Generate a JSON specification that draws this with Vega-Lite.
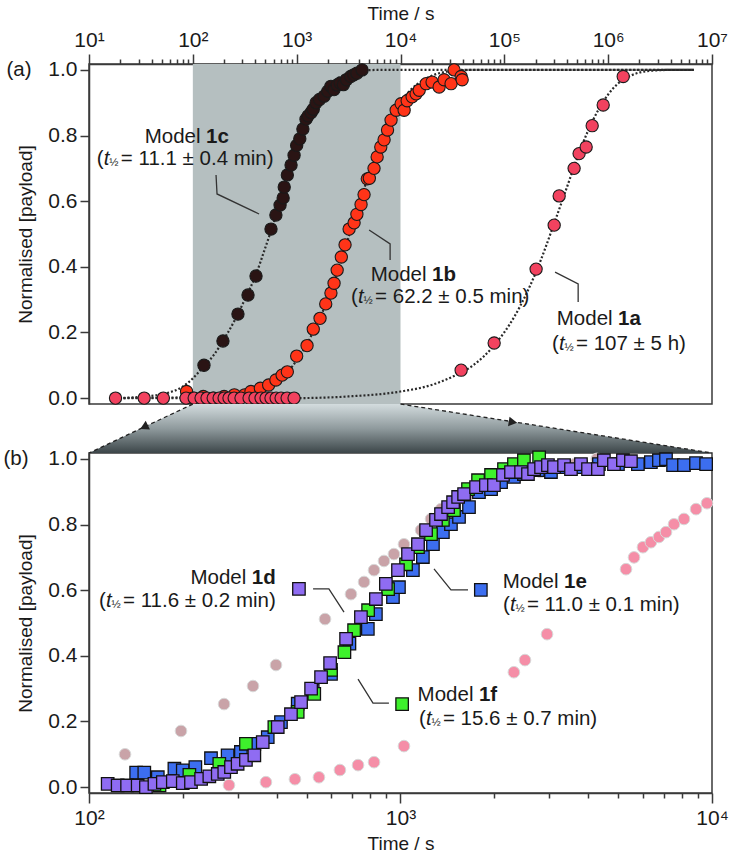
{
  "$schema": "https://vega.github.io/schema/vega-lite/v6.json",
  "background": "white",
  "padding": {"left": 2, "right": 10, "top": 3, "bottom": 3},
  "bounds": "flush",
  "spacing": 49,
  "config": {
    "view": {"stroke": "#3a3a3a", "strokeWidth": 1.5},
    "axis": {
      "labelFont": "Liberation Sans", "labelFontSize": 21, "labelColor": "#1a1a1a",
      "titleFont": "Liberation Sans", "titleFontSize": 19, "titleFontWeight": "normal", "titleColor": "#1a1a1a",
      "domainColor": "#3a3a3a", "domainWidth": 1.5, "tickColor": "#3a3a3a", "tickWidth": 1.5,
      "grid": false, "labelOverlap": false, "labelFlush": false
    },
    "text": {"font": "Liberation Sans", "color": "#1a1a1a", "fontSize": 20.5}
  },
  "datasets": {
    "topPts": [
      {"m": "1c", "t": 128, "y": 0.10}, {"m": "1c", "t": 195, "y": 0.174}, {"m": "1c", "t": 272, "y": 0.256},
      {"m": "1c", "t": 340, "y": 0.314}, {"m": "1c", "t": 406, "y": 0.372}, {"m": "1c", "t": 566, "y": 0.515},
      {"m": "1c", "t": 631, "y": 0.558}, {"m": "1c", "t": 692, "y": 0.588}, {"m": "1c", "t": 741, "y": 0.61},
      {"m": "1c", "t": 759, "y": 0.643}, {"m": "1c", "t": 813, "y": 0.68}, {"m": "1c", "t": 883, "y": 0.71},
      {"m": "1c", "t": 944, "y": 0.74}, {"m": "1c", "t": 1000, "y": 0.77}, {"m": "1c", "t": 1072, "y": 0.79},
      {"m": "1c", "t": 1148, "y": 0.82}, {"m": "1c", "t": 1230, "y": 0.85}, {"m": "1c", "t": 1288, "y": 0.86},
      {"m": "1c", "t": 1380, "y": 0.87}, {"m": "1c", "t": 1445, "y": 0.88}, {"m": "1c", "t": 1538, "y": 0.90},
      {"m": "1c", "t": 1660, "y": 0.91}, {"m": "1c", "t": 1837, "y": 0.92}, {"m": "1c", "t": 1995, "y": 0.935},
      {"m": "1c", "t": 2138, "y": 0.95}, {"m": "1c", "t": 2291, "y": 0.94}, {"m": "1c", "t": 2455, "y": 0.954},
      {"m": "1c", "t": 2630, "y": 0.96}, {"m": "1c", "t": 2818, "y": 0.955}, {"m": "1c", "t": 3020, "y": 0.97},
      {"m": "1c", "t": 3311, "y": 0.98}, {"m": "1c", "t": 3548, "y": 0.985}, {"m": "1c", "t": 3802, "y": 0.99},
      {"m": "1c", "t": 4266, "y": 1.0},
      {"m": "1b", "t": 87, "y": 0.02}, {"m": "1b", "t": 100, "y": 0.0}, {"m": "1b", "t": 126, "y": 0.005},
      {"m": "1b", "t": 158, "y": 0.0}, {"m": "1b", "t": 200, "y": 0.005}, {"m": "1b", "t": 251, "y": 0.01},
      {"m": "1b", "t": 316, "y": 0.01}, {"m": "1b", "t": 363, "y": 0.02}, {"m": "1b", "t": 447, "y": 0.03},
      {"m": "1b", "t": 537, "y": 0.04}, {"m": "1b", "t": 631, "y": 0.055}, {"m": "1b", "t": 724, "y": 0.07},
      {"m": "1b", "t": 813, "y": 0.08}, {"m": "1b", "t": 1000, "y": 0.128}, {"m": "1b", "t": 1259, "y": 0.16},
      {"m": "1b", "t": 1445, "y": 0.21}, {"m": "1b", "t": 1679, "y": 0.243}, {"m": "1b", "t": 1905, "y": 0.287},
      {"m": "1b", "t": 2138, "y": 0.32}, {"m": "1b", "t": 2291, "y": 0.35}, {"m": "1b", "t": 2455, "y": 0.39},
      {"m": "1b", "t": 2692, "y": 0.43}, {"m": "1b", "t": 2924, "y": 0.467}, {"m": "1b", "t": 3199, "y": 0.515},
      {"m": "1b", "t": 3573, "y": 0.534}, {"m": "1b", "t": 3802, "y": 0.56}, {"m": "1b", "t": 4169, "y": 0.59},
      {"m": "1b", "t": 4457, "y": 0.62}, {"m": "1b", "t": 4786, "y": 0.668}, {"m": "1b", "t": 5012, "y": 0.67},
      {"m": "1b", "t": 5559, "y": 0.70}, {"m": "1b", "t": 5957, "y": 0.735}, {"m": "1b", "t": 6457, "y": 0.765},
      {"m": "1b", "t": 6950, "y": 0.787}, {"m": "1b", "t": 7500, "y": 0.817}, {"m": "1b", "t": 8110, "y": 0.847},
      {"m": "1b", "t": 9078, "y": 0.877}, {"m": "1b", "t": 10140, "y": 0.897}, {"m": "1b", "t": 10840, "y": 0.877},
      {"m": "1b", "t": 11590, "y": 0.906}, {"m": "1b", "t": 12940, "y": 0.918}, {"m": "1b", "t": 14130, "y": 0.927},
      {"m": "1b", "t": 15140, "y": 0.938}, {"m": "1b", "t": 17660, "y": 0.958}, {"m": "1b", "t": 20140, "y": 0.963},
      {"m": "1b", "t": 23550, "y": 0.948}, {"m": "1b", "t": 26300, "y": 0.97}, {"m": "1b", "t": 30690, "y": 0.958},
      {"m": "1b", "t": 32810, "y": 1.0}, {"m": "1b", "t": 38370, "y": 0.98}, {"m": "1b", "t": 39260, "y": 0.97},
      {"m": "1a", "t": 18, "y": 0}, {"m": "1a", "t": 34, "y": 0}, {"m": "1a", "t": 52, "y": 0},
      {"m": "1a", "t": 86, "y": 0}, {"m": "1a", "t": 103, "y": 0}, {"m": "1a", "t": 120, "y": 0},
      {"m": "1a", "t": 137, "y": 0}, {"m": "1a", "t": 157, "y": 0}, {"m": "1a", "t": 179, "y": 0},
      {"m": "1a", "t": 200, "y": 0}, {"m": "1a", "t": 223, "y": 0}, {"m": "1a", "t": 250, "y": 0},
      {"m": "1a", "t": 291, "y": 0}, {"m": "1a", "t": 348, "y": 0}, {"m": "1a", "t": 397, "y": 0},
      {"m": "1a", "t": 454, "y": 0}, {"m": "1a", "t": 507, "y": 0}, {"m": "1a", "t": 566, "y": 0},
      {"m": "1a", "t": 634, "y": 0}, {"m": "1a", "t": 708, "y": 0}, {"m": "1a", "t": 809, "y": 0},
      {"m": "1a", "t": 944, "y": 0},
      {"m": "1a", "t": 38370, "y": 0.085}, {"m": "1a", "t": 79800, "y": 0.168}, {"m": "1a", "t": 202300, "y": 0.393},
      {"m": "1a", "t": 302000, "y": 0.527}, {"m": "1a", "t": 337300, "y": 0.616}, {"m": "1a", "t": 469900, "y": 0.70},
      {"m": "1a", "t": 524800, "y": 0.745}, {"m": "1a", "t": 613800, "y": 0.765}, {"m": "1a", "t": 701500, "y": 0.83},
      {"m": "1a", "t": 895400, "y": 0.893}, {"m": "1a", "t": 1396000, "y": 0.98}
    ],
    "topCurves": [
      {"m": "1c", "t": 18, "y": 0.0}, {"m": "1c", "t": 32, "y": 0.004}, {"m": "1c", "t": 56, "y": 0.015},
      {"m": "1c", "t": 80, "y": 0.035}, {"m": "1c", "t": 100, "y": 0.06}, {"m": "1c", "t": 126, "y": 0.095},
      {"m": "1c", "t": 158, "y": 0.13}, {"m": "1c", "t": 200, "y": 0.18}, {"m": "1c", "t": 251, "y": 0.235},
      {"m": "1c", "t": 316, "y": 0.3}, {"m": "1c", "t": 398, "y": 0.37}, {"m": "1c", "t": 501, "y": 0.46},
      {"m": "1c", "t": 631, "y": 0.555}, {"m": "1c", "t": 794, "y": 0.66}, {"m": "1c", "t": 1000, "y": 0.765},
      {"m": "1c", "t": 1259, "y": 0.85}, {"m": "1c", "t": 1585, "y": 0.91}, {"m": "1c", "t": 1995, "y": 0.95},
      {"m": "1c", "t": 2512, "y": 0.975}, {"m": "1c", "t": 3162, "y": 0.99}, {"m": "1c", "t": 3981, "y": 0.997},
      {"m": "1c", "t": 6310, "y": 1.0}, {"m": "1c", "t": 6700000, "y": 1.0},
      {"m": "1b", "t": 18, "y": 0.0}, {"m": "1b", "t": 100, "y": 0.003}, {"m": "1b", "t": 200, "y": 0.008},
      {"m": "1b", "t": 316, "y": 0.015}, {"m": "1b", "t": 501, "y": 0.035}, {"m": "1b", "t": 631, "y": 0.05},
      {"m": "1b", "t": 794, "y": 0.075}, {"m": "1b", "t": 1000, "y": 0.115}, {"m": "1b", "t": 1259, "y": 0.165},
      {"m": "1b", "t": 1585, "y": 0.23}, {"m": "1b", "t": 1995, "y": 0.30}, {"m": "1b", "t": 2512, "y": 0.39},
      {"m": "1b", "t": 3162, "y": 0.49}, {"m": "1b", "t": 3981, "y": 0.59}, {"m": "1b", "t": 5012, "y": 0.685},
      {"m": "1b", "t": 6310, "y": 0.77}, {"m": "1b", "t": 7943, "y": 0.845}, {"m": "1b", "t": 10000, "y": 0.9},
      {"m": "1b", "t": 12590, "y": 0.94}, {"m": "1b", "t": 15850, "y": 0.965}, {"m": "1b", "t": 19950, "y": 0.982},
      {"m": "1b", "t": 25120, "y": 0.992}, {"m": "1b", "t": 31620, "y": 0.997}, {"m": "1b", "t": 50120, "y": 1.0},
      {"m": "1b", "t": 6700000, "y": 1.0},
      {"m": "1a", "t": 18, "y": 0.0}, {"m": "1a", "t": 1000, "y": 0.0}, {"m": "1a", "t": 3162, "y": 0.005},
      {"m": "1a", "t": 10000, "y": 0.02}, {"m": "1a", "t": 19950, "y": 0.04}, {"m": "1a", "t": 31620, "y": 0.065},
      {"m": "1a", "t": 50120, "y": 0.1}, {"m": "1a", "t": 79430, "y": 0.16}, {"m": "1a", "t": 125900, "y": 0.25},
      {"m": "1a", "t": 199500, "y": 0.38}, {"m": "1a", "t": 316200, "y": 0.55}, {"m": "1a", "t": 398100, "y": 0.64},
      {"m": "1a", "t": 501200, "y": 0.73}, {"m": "1a", "t": 631000, "y": 0.81}, {"m": "1a", "t": 794300, "y": 0.875},
      {"m": "1a", "t": 1000000, "y": 0.925}, {"m": "1a", "t": 1259000, "y": 0.96}, {"m": "1a", "t": 1585000, "y": 0.98},
      {"m": "1a", "t": 1995000, "y": 0.992}, {"m": "1a", "t": 2512000, "y": 0.997}, {"m": "1a", "t": 3981000, "y": 1.0},
      {"m": "1a", "t": 6700000, "y": 1.0}
    ],
    "topLeaders": [
      {"m": "1c", "o": 1, "t": 167.3, "y": 0.680}, {"m": "1c", "o": 2, "t": 171, "y": 0.622}, {"m": "1c", "o": 3, "t": 434.5, "y": 0.561},
      {"m": "1b", "o": 1, "t": 4983, "y": 0.512}, {"m": "1b", "o": 2, "t": 7943, "y": 0.470}, {"m": "1b", "o": 3, "t": 7943, "y": 0.421},
      {"m": "1a", "o": 1, "t": 308000, "y": 0.384}, {"m": "1a", "o": 2, "t": 514000, "y": 0.348}, {"m": "1a", "o": 3, "t": 514000, "y": 0.293}
    ],
    "topLabels": [
      {"m": "1c", "lt": 134, "ly": 0.796, "pt": 11.9, "py": 0.729, "rest": "= 11.1 ± 0.4 min)"},
      {"m": "1b", "lt": 20140, "ly": 0.375, "pt": 3344, "py": 0.308, "rest": "= 62.2 ± 0.5 min)"},
      {"m": "1a", "lt": 1247000, "ly": 0.241, "pt": 288000, "py": 0.165, "rest": "= 107 ± 5 h)"}
    ],
    "botCirc": [
      {"m": "1c", "t": 130.5, "y": 0.10}, {"m": "1c", "t": 197.4, "y": 0.171}, {"m": "1c", "t": 271.4, "y": 0.253},
      {"m": "1c", "t": 336.1, "y": 0.308}, {"m": "1c", "t": 398.4, "y": 0.372}, {"m": "1c", "t": 572.4, "y": 0.512},
      {"m": "1c", "t": 693.4, "y": 0.588}, {"m": "1c", "t": 763.8, "y": 0.625}, {"m": "1c", "t": 822.2, "y": 0.661},
      {"m": "1c", "t": 885.2, "y": 0.689}, {"m": "1c", "t": 952.6, "y": 0.71}, {"m": "1c", "t": 1026, "y": 0.74},
      {"m": "1c", "t": 1164, "y": 0.783}, {"m": "1c", "t": 1253, "y": 0.817}, {"m": "1c", "t": 1349, "y": 0.847},
      {"m": "1c", "t": 1479, "y": 0.87}, {"m": "1c", "t": 1660, "y": 0.89}, {"m": "1c", "t": 1862, "y": 0.915},
      {"m": "1c", "t": 2138, "y": 0.94}, {"m": "1c", "t": 2512, "y": 0.955}, {"m": "1c", "t": 2818, "y": 0.96},
      {"m": "1c", "t": 3162, "y": 0.975}, {"m": "1c", "t": 3631, "y": 0.985}, {"m": "1c", "t": 4266, "y": 1.0},
      {"m": "1b", "t": 281.4, "y": 0.006}, {"m": "1b", "t": 369.8, "y": 0.015}, {"m": "1b", "t": 458.3, "y": 0.024},
      {"m": "1b", "t": 547.2, "y": 0.03}, {"m": "1b", "t": 639, "y": 0.052}, {"m": "1b", "t": 730.5, "y": 0.067},
      {"m": "1b", "t": 822.4, "y": 0.076}, {"m": "1b", "t": 1026, "y": 0.125}, {"m": "1b", "t": 2312, "y": 0.35},
      {"m": "1b", "t": 2510, "y": 0.387}, {"m": "1b", "t": 2954, "y": 0.466}, {"m": "1b", "t": 5296, "y": 0.664},
      {"m": "1b", "t": 5620, "y": 0.70}, {"m": "1b", "t": 6003, "y": 0.731}, {"m": "1b", "t": 6365, "y": 0.746},
      {"m": "1b", "t": 6755, "y": 0.762}, {"m": "1b", "t": 7118, "y": 0.777}, {"m": "1b", "t": 7552, "y": 0.801},
      {"m": "1b", "t": 8129, "y": 0.817}, {"m": "1b", "t": 8886, "y": 0.847}, {"m": "1b", "t": 9636, "y": 0.865}
    ],
    "botSq": [
      {"m": "1e", "t": 141.7, "y": 0.044}, {"m": "1e", "t": 150.5, "y": 0.044}, {"m": "1e", "t": 166.3, "y": 0.03},
      {"m": "1e", "t": 188, "y": 0.056}, {"m": "1e", "t": 200, "y": 0.051}, {"m": "1e", "t": 219.5, "y": 0.061},
      {"m": "1e", "t": 246.4, "y": 0.088}, {"m": "1e", "t": 278.6, "y": 0.097}, {"m": "1e", "t": 307.3, "y": 0.107},
      {"m": "1e", "t": 339.5, "y": 0.132}, {"m": "1e", "t": 374.8, "y": 0.152}, {"m": "1e", "t": 413.3, "y": 0.198},
      {"m": "1e", "t": 467.7, "y": 0.254}, {"m": "1e", "t": 522.6, "y": 0.295}, {"m": "1e", "t": 598.3, "y": 0.345},
      {"m": "1e", "t": 685.6, "y": 0.437}, {"m": "1e", "t": 785.5, "y": 0.482}, {"m": "1e", "t": 833.7, "y": 0.527},
      {"m": "1e", "t": 945.8, "y": 0.579}, {"m": "1e", "t": 988.6, "y": 0.609}, {"m": "1e", "t": 1096, "y": 0.661},
      {"m": "1e", "t": 1180, "y": 0.701}, {"m": "1e", "t": 1271, "y": 0.74}, {"m": "1e", "t": 1368, "y": 0.777},
      {"m": "1e", "t": 1452, "y": 0.801}, {"m": "1e", "t": 1541, "y": 0.823}, {"m": "1e", "t": 1659, "y": 0.853},
      {"m": "1e", "t": 1786, "y": 0.899}, {"m": "1e", "t": 1953, "y": 0.908}, {"m": "1e", "t": 2103, "y": 0.929},
      {"m": "1e", "t": 2313, "y": 0.945}, {"m": "1e", "t": 2490, "y": 0.954}, {"m": "1e", "t": 2761, "y": 0.966},
      {"m": "1e", "t": 3041, "y": 0.96}, {"m": "1e", "t": 3350, "y": 0.975}, {"m": "1e", "t": 3796, "y": 0.975},
      {"m": "1e", "t": 4335, "y": 0.984}, {"m": "1e", "t": 4990, "y": 0.984}, {"m": "1e", "t": 5782, "y": 0.984},
      {"m": "1e", "t": 6365, "y": 0.99}, {"m": "1e", "t": 6755, "y": 0.996}, {"m": "1e", "t": 7118, "y": 0.999},
      {"m": "1e", "t": 7499, "y": 0.981}, {"m": "1e", "t": 8129, "y": 0.981}, {"m": "1e", "t": 8886, "y": 0.987},
      {"m": "1e", "t": 9574, "y": 0.984},
      {"m": "1f", "t": 168.4, "y": 0.005}, {"m": "1f", "t": 210, "y": 0.037}, {"m": "1f", "t": 262, "y": 0.071},
      {"m": "1f", "t": 319, "y": 0.132}, {"m": "1f", "t": 393.6, "y": 0.183}, {"m": "1f", "t": 467.7, "y": 0.229},
      {"m": "1f", "t": 528.6, "y": 0.284}, {"m": "1f", "t": 598.3, "y": 0.357}, {"m": "1f", "t": 660.7, "y": 0.411},
      {"m": "1f", "t": 709.6, "y": 0.478}, {"m": "1f", "t": 787, "y": 0.539}, {"m": "1f", "t": 912.3, "y": 0.603},
      {"m": "1f", "t": 1042, "y": 0.679}, {"m": "1f", "t": 1138, "y": 0.731}, {"m": "1f", "t": 1253, "y": 0.771},
      {"m": "1f", "t": 1368, "y": 0.814}, {"m": "1f", "t": 1485, "y": 0.844}, {"m": "1f", "t": 1647, "y": 0.908},
      {"m": "1f", "t": 1774, "y": 0.935}, {"m": "1f", "t": 1953, "y": 0.951}, {"m": "1f", "t": 2149, "y": 0.969},
      {"m": "1f", "t": 2313, "y": 0.984}, {"m": "1f", "t": 2490, "y": 0.996}, {"m": "1f", "t": 2786, "y": 1.005},
      {"m": "1d", "t": 114.8, "y": 0.010}, {"m": "1d", "t": 123.6, "y": 0.005}, {"m": "1d", "t": 132.5, "y": 0.005},
      {"m": "1d", "t": 143.3, "y": 0.005}, {"m": "1d", "t": 152.3, "y": 0.0}, {"m": "1d", "t": 162.2, "y": 0.01},
      {"m": "1d", "t": 172.6, "y": 0.015}, {"m": "1d", "t": 185.8, "y": 0.018}, {"m": "1d", "t": 200, "y": 0.012},
      {"m": "1d", "t": 212.5, "y": 0.015}, {"m": "1d", "t": 229, "y": 0.025}, {"m": "1d", "t": 243.4, "y": 0.033},
      {"m": "1d", "t": 259, "y": 0.04}, {"m": "1d", "t": 271.8, "y": 0.046}, {"m": "1d", "t": 285.6, "y": 0.061},
      {"m": "1d", "t": 300, "y": 0.071}, {"m": "1d", "t": 319, "y": 0.083}, {"m": "1d", "t": 339.5, "y": 0.097},
      {"m": "1d", "t": 361.2, "y": 0.137}, {"m": "1d", "t": 403.6, "y": 0.183}, {"m": "1d", "t": 445, "y": 0.222},
      {"m": "1d", "t": 479.5, "y": 0.259}, {"m": "1d", "t": 516.4, "y": 0.30}, {"m": "1d", "t": 555.9, "y": 0.335},
      {"m": "1d", "t": 594.3, "y": 0.378}, {"m": "1d", "t": 668.8, "y": 0.452}, {"m": "1d", "t": 746.4, "y": 0.518},
      {"m": "1d", "t": 833.7, "y": 0.573}, {"m": "1d", "t": 897.5, "y": 0.619}, {"m": "1d", "t": 981.5, "y": 0.661},
      {"m": "1d", "t": 1057, "y": 0.71}, {"m": "1d", "t": 1138, "y": 0.74}, {"m": "1d", "t": 1208, "y": 0.783},
      {"m": "1d", "t": 1300, "y": 0.814}, {"m": "1d", "t": 1349, "y": 0.832}, {"m": "1d", "t": 1422, "y": 0.853},
      {"m": "1d", "t": 1475, "y": 0.868}, {"m": "1d", "t": 1531, "y": 0.884}, {"m": "1d", "t": 1600, "y": 0.893},
      {"m": "1d", "t": 1748, "y": 0.914}, {"m": "1d", "t": 1880, "y": 0.92}, {"m": "1d", "t": 1995, "y": 0.92},
      {"m": "1d", "t": 2133, "y": 0.951}, {"m": "1d", "t": 2263, "y": 0.96}, {"m": "1d", "t": 2438, "y": 0.96},
      {"m": "1d", "t": 2566, "y": 0.954}, {"m": "1d", "t": 2685, "y": 0.969}, {"m": "1d", "t": 2826, "y": 0.975},
      {"m": "1d", "t": 2974, "y": 0.981}, {"m": "1d", "t": 3110, "y": 0.975}, {"m": "1d", "t": 3350, "y": 0.981},
      {"m": "1d", "t": 3526, "y": 0.969}, {"m": "1d", "t": 3796, "y": 0.984}, {"m": "1d", "t": 3999, "y": 0.969},
      {"m": "1d", "t": 4303, "y": 0.969}, {"m": "1d", "t": 4498, "y": 0.996}, {"m": "1d", "t": 4844, "y": 0.984},
      {"m": "1d", "t": 5177, "y": 0.996}, {"m": "1d", "t": 5492, "y": 0.993}
    ],
    "botLeaders": [
      {"m": "1d", "o": 1, "t": 524, "y": 0.604}, {"m": "1d", "o": 2, "t": 589, "y": 0.604}, {"m": "1d", "o": 3, "t": 658.6, "y": 0.533},
      {"m": "1e", "o": 1, "t": 1281, "y": 0.665}, {"m": "1e", "o": 2, "t": 1452, "y": 0.601}, {"m": "1e", "o": 3, "t": 1647, "y": 0.601},
      {"m": "1f", "o": 1, "t": 730.6, "y": 0.329}, {"m": "1f", "o": 2, "t": 816, "y": 0.256}, {"m": "1f", "o": 3, "t": 918, "y": 0.256}
    ],
    "botMarkers": [
      {"m": "1d", "t": 472, "y": 0.604}, {"m": "1e", "t": 1811, "y": 0.601}, {"m": "1f", "t": 1012, "y": 0.253}
    ],
    "botLabels": [
      {"m": "1d", "lt": 333, "ly": 0.638, "pt": 107.7, "py": 0.566, "rest": "= 11.6 ± 0.2 min)"},
      {"m": "1e", "lt": 3350, "ly": 0.625, "pt": 2132, "py": 0.555, "rest": "= 11.0 ± 0.1 min)"},
      {"m": "1f", "lt": 1786, "ly": 0.281, "pt": 1146, "py": 0.208, "rest": "= 15.6 ± 0.7 min)"}
    ],
    "shade": [
      {"t": 100, "top": 1.018, "base": 1.018}, {"t": 215.44, "top": 1.167, "base": 1.018},
      {"t": 1000, "top": 1.167, "base": 1.018}, {"t": 10000, "top": 1.018, "base": 1.018}
    ],
    "connectors": [
      {"s": "l", "o": 1, "t": 215.44, "y": 1.167}, {"s": "l", "o": 2, "t": 100, "y": 1.018},
      {"s": "r", "o": 1, "t": 1000, "y": 1.167}, {"s": "r", "o": 2, "t": 10000, "y": 1.018}
    ]
  },
  "resolve": {"scale": {"x": "independent", "y": "independent", "fill": "independent"}},
  "vconcat": [
    {
      "width": 623,
      "height": 340,
      "layer": [
        {
          "data": {"values": [{"t": 100, "t2": 10000}]},
          "mark": {"type": "rect", "color": "#b5bfc0"},
          "encoding": {
            "x": {
              "field": "t", "type": "quantitative",
              "scale": {"type": "log", "domain": [10, 10000000]},
              "axis": {
                "orient": "top", "title": "Time / s", "titlePadding": 6, "labelPadding": 4,
                "values": [10, 20, 30, 40, 50, 60, 70, 80, 90, 100, 200, 300, 400, 500, 600, 700, 800, 900,
                  1000, 2000, 3000, 4000, 5000, 6000, 7000, 8000, 9000, 10000, 20000, 30000, 40000, 50000, 60000, 70000, 80000, 90000,
                  100000, 200000, 300000, 400000, 500000, 600000, 700000, 800000, 900000,
                  1000000, 2000000, 3000000, 4000000, 5000000, 6000000, 7000000, 8000000, 9000000, 10000000],
                "labelExpr": "abs(log(datum.value)/LN10 - round(log(datum.value)/LN10)) < 0.000001 ? '10' + ['⁰','¹','²','³','⁴','⁵','⁶','⁷'][round(log(datum.value)/LN10)] : ''",
                "tickSize": {"condition": {"test": "abs(log(datum.value)/LN10 - round(log(datum.value)/LN10)) < 0.000001", "value": 10}, "value": 5}
              }
            },
            "x2": {"field": "t2"}
          }
        },
        {
          "data": {"name": "topCurves"},
          "mark": {"type": "line", "color": "#2a2a2a", "strokeWidth": 2.2, "strokeDash": [2, 2], "interpolate": "monotone"},
          "encoding": {
            "x": {"field": "t", "type": "quantitative"},
            "y": {
              "field": "y", "type": "quantitative",
              "scale": {"domain": [-0.018, 1.018], "nice": false, "zero": false},
              "axis": {
                "title": "Normalised [payload]", "titlePadding": 12, "labelPadding": 3,
                "values": [0, 0.05, 0.1, 0.15, 0.2, 0.25, 0.3, 0.35, 0.4, 0.45, 0.5, 0.55, 0.6, 0.65, 0.7, 0.75, 0.8, 0.85, 0.9, 0.95, 1],
                "labelExpr": "abs(datum.value*5 - round(datum.value*5)) < 0.001 ? format(datum.value, '.1f') : ''",
                "tickSize": {"condition": {"test": "abs(datum.value*5 - round(datum.value*5)) < 0.001", "value": 9}, "value": 5}
              }
            },
            "detail": {"field": "m"}
          }
        },
        {
          "data": {"name": "topLeaders"},
          "mark": {"type": "line", "color": "#333333", "strokeWidth": 1.3},
          "encoding": {
            "x": {"field": "t", "type": "quantitative"},
            "y": {"field": "y", "type": "quantitative"},
            "detail": {"field": "m"},
            "order": {"field": "o"}
          }
        },
        {
          "data": {"name": "topPts"},
          "mark": {"type": "point", "shape": "circle", "filled": true, "size": 150, "stroke": "#1a1a1a", "strokeWidth": 1.1, "opacity": 1},
          "encoding": {
            "x": {"field": "t", "type": "quantitative"},
            "y": {"field": "y", "type": "quantitative"},
            "fill": {
              "field": "m", "type": "nominal",
              "scale": {"domain": ["1a", "1b", "1c"], "range": ["#f2425f", "#ff3418", "#2a1414"]},
              "legend": null
            }
          }
        },
        {
          "data": {"name": "topLabels"},
          "mark": {"type": "text", "align": "right", "baseline": "middle", "dx": -5.5, "text": "Model"},
          "encoding": {"x": {"field": "lt", "type": "quantitative"}, "y": {"field": "ly", "type": "quantitative"}}
        },
        {
          "data": {"name": "topLabels"},
          "mark": {"type": "text", "align": "left", "baseline": "middle", "fontWeight": "bold"},
          "encoding": {"x": {"field": "lt", "type": "quantitative"}, "y": {"field": "ly", "type": "quantitative"}, "text": {"field": "m"}}
        },
        {
          "data": {"name": "topLabels"},
          "mark": {"type": "text", "align": "left", "baseline": "middle", "text": "("},
          "encoding": {"x": {"field": "pt", "type": "quantitative"}, "y": {"field": "py", "type": "quantitative"}}
        },
        {
          "data": {"name": "topLabels"},
          "mark": {"type": "text", "align": "left", "baseline": "middle", "dx": 7, "fontStyle": "italic", "text": "t"},
          "encoding": {"x": {"field": "pt", "type": "quantitative"}, "y": {"field": "py", "type": "quantitative"}}
        },
        {
          "data": {"name": "topLabels"},
          "mark": {"type": "text", "align": "left", "baseline": "middle", "dx": 12.5, "dy": 4, "fontSize": 11, "text": "½"},
          "encoding": {"x": {"field": "pt", "type": "quantitative"}, "y": {"field": "py", "type": "quantitative"}}
        },
        {
          "data": {"name": "topLabels"},
          "mark": {"type": "text", "align": "left", "baseline": "middle", "dx": 24},
          "encoding": {"x": {"field": "pt", "type": "quantitative"}, "y": {"field": "py", "type": "quantitative"}, "text": {"field": "rest"}}
        },
        {
          "data": {"values": [{"t": 2.12, "y": 1.0, "lab": "(a)"}]},
          "mark": {"type": "text", "align": "center", "baseline": "middle", "clip": false},
          "encoding": {"x": {"field": "t", "type": "quantitative"}, "y": {"field": "y", "type": "quantitative"}, "text": {"field": "lab"}}
        }
      ]
    },
    {
      "width": 623,
      "height": 340,
      "layer": [
        {
          "data": {"name": "shade"},
          "mark": {
            "type": "area", "clip": false,
            "color": {"gradient": "linear", "x1": 0, "y1": 0, "x2": 0, "y2": 1,
              "stops": [{"offset": 0, "color": "#d3dcde"}, {"offset": 0.5, "color": "#8f9a9d"}, {"offset": 1, "color": "#3c4649"}]}
          },
          "encoding": {
            "x": {
              "field": "t", "type": "quantitative",
              "scale": {"type": "log", "domain": [100, 10000]},
              "axis": {
                "title": "Time / s", "titlePadding": 6, "labelPadding": 4,
                "values": [100, 200, 300, 400, 500, 600, 700, 800, 900, 1000, 2000, 3000, 4000, 5000, 6000, 7000, 8000, 9000, 10000],
                "labelExpr": "abs(log(datum.value)/LN10 - round(log(datum.value)/LN10)) < 0.000001 ? '10' + ['⁰','¹','²','³','⁴','⁵','⁶','⁷'][round(log(datum.value)/LN10)] : ''",
                "tickSize": {"condition": {"test": "abs(log(datum.value)/LN10 - round(log(datum.value)/LN10)) < 0.000001", "value": 10}, "value": 5}
              }
            },
            "y": {
              "field": "top", "type": "quantitative",
              "scale": {"domain": [-0.018, 1.018], "nice": false, "zero": false},
              "axis": {
                "title": "Normalised [payload]", "titlePadding": 12, "labelPadding": 3,
                "values": [0, 0.05, 0.1, 0.15, 0.2, 0.25, 0.3, 0.35, 0.4, 0.45, 0.5, 0.55, 0.6, 0.65, 0.7, 0.75, 0.8, 0.85, 0.9, 0.95, 1],
                "labelExpr": "abs(datum.value*5 - round(datum.value*5)) < 0.001 ? format(datum.value, '.1f') : ''",
                "tickSize": {"condition": {"test": "abs(datum.value*5 - round(datum.value*5)) < 0.001", "value": 9}, "value": 5}
              }
            },
            "y2": {"field": "base"}
          }
        },
        {
          "data": {"name": "connectors"},
          "mark": {"type": "line", "clip": false, "color": "#222222", "strokeWidth": 1.3, "strokeDash": [4, 3]},
          "encoding": {
            "x": {"field": "t", "type": "quantitative"},
            "y": {"field": "y", "type": "quantitative"},
            "detail": {"field": "s"},
            "order": {"field": "o"}
          }
        },
        {
          "data": {"values": [{"t": 150.2, "y": 1.097}]},
          "mark": {"type": "point", "shape": "triangle-up", "filled": true, "size": 95, "color": "#222222", "opacity": 1, "angle": 244, "clip": false},
          "encoding": {"x": {"field": "t", "type": "quantitative"}, "y": {"field": "y", "type": "quantitative"}}
        },
        {
          "data": {"values": [{"t": 2296, "y": 1.112}]},
          "mark": {"type": "point", "shape": "triangle-up", "filled": true, "size": 95, "color": "#222222", "opacity": 1, "angle": 99, "clip": false},
          "encoding": {"x": {"field": "t", "type": "quantitative"}, "y": {"field": "y", "type": "quantitative"}}
        },
        {
          "data": {"name": "botCirc"},
          "mark": {"type": "point", "shape": "circle", "filled": true, "size": 135, "stroke": "#d8d8d8", "strokeWidth": 1, "opacity": 1},
          "encoding": {
            "x": {"field": "t", "type": "quantitative"},
            "y": {"field": "y", "type": "quantitative"},
            "fill": {
              "field": "m", "type": "nominal",
              "scale": {"domain": ["1b", "1c", "1d", "1e", "1f"], "range": ["#f58ea7", "#c9a3a8", "#8f6cf2", "#3c6ef0", "#3ef02c"]},
              "legend": null
            }
          }
        },
        {
          "data": {"name": "botSq"},
          "mark": {"type": "point", "shape": "square", "filled": true, "size": 155, "stroke": "#111111", "strokeWidth": 1.3, "opacity": 1},
          "encoding": {
            "x": {"field": "t", "type": "quantitative"},
            "y": {"field": "y", "type": "quantitative"},
            "fill": {"field": "m", "type": "nominal", "legend": null}
          }
        },
        {
          "data": {"name": "botLeaders"},
          "mark": {"type": "line", "color": "#333333", "strokeWidth": 1.3},
          "encoding": {
            "x": {"field": "t", "type": "quantitative"},
            "y": {"field": "y", "type": "quantitative"},
            "detail": {"field": "m"},
            "order": {"field": "o"}
          }
        },
        {
          "data": {"name": "botMarkers"},
          "mark": {"type": "point", "shape": "square", "filled": true, "size": 155, "stroke": "#111111", "strokeWidth": 1.3, "opacity": 1},
          "encoding": {
            "x": {"field": "t", "type": "quantitative"},
            "y": {"field": "y", "type": "quantitative"},
            "fill": {"field": "m", "type": "nominal", "legend": null}
          }
        },
        {
          "data": {"name": "botLabels"},
          "mark": {"type": "text", "align": "right", "baseline": "middle", "dx": -5.5, "text": "Model"},
          "encoding": {"x": {"field": "lt", "type": "quantitative"}, "y": {"field": "ly", "type": "quantitative"}}
        },
        {
          "data": {"name": "botLabels"},
          "mark": {"type": "text", "align": "left", "baseline": "middle", "fontWeight": "bold"},
          "encoding": {"x": {"field": "lt", "type": "quantitative"}, "y": {"field": "ly", "type": "quantitative"}, "text": {"field": "m"}}
        },
        {
          "data": {"name": "botLabels"},
          "mark": {"type": "text", "align": "left", "baseline": "middle", "text": "("},
          "encoding": {"x": {"field": "pt", "type": "quantitative"}, "y": {"field": "py", "type": "quantitative"}}
        },
        {
          "data": {"name": "botLabels"},
          "mark": {"type": "text", "align": "left", "baseline": "middle", "dx": 7, "fontStyle": "italic", "text": "t"},
          "encoding": {"x": {"field": "pt", "type": "quantitative"}, "y": {"field": "py", "type": "quantitative"}}
        },
        {
          "data": {"name": "botLabels"},
          "mark": {"type": "text", "align": "left", "baseline": "middle", "dx": 12.5, "dy": 4, "fontSize": 11, "text": "½"},
          "encoding": {"x": {"field": "pt", "type": "quantitative"}, "y": {"field": "py", "type": "quantitative"}}
        },
        {
          "data": {"name": "botLabels"},
          "mark": {"type": "text", "align": "left", "baseline": "middle", "dx": 24},
          "encoding": {"x": {"field": "pt", "type": "quantitative"}, "y": {"field": "py", "type": "quantitative"}, "text": {"field": "rest"}}
        },
        {
          "data": {"values": [{"t": 58.3, "y": 1.0, "lab": "(b)"}]},
          "mark": {"type": "text", "align": "center", "baseline": "middle", "clip": false},
          "encoding": {"x": {"field": "t", "type": "quantitative"}, "y": {"field": "y", "type": "quantitative"}, "text": {"field": "lab"}}
        }
      ]
    }
  ]
}
